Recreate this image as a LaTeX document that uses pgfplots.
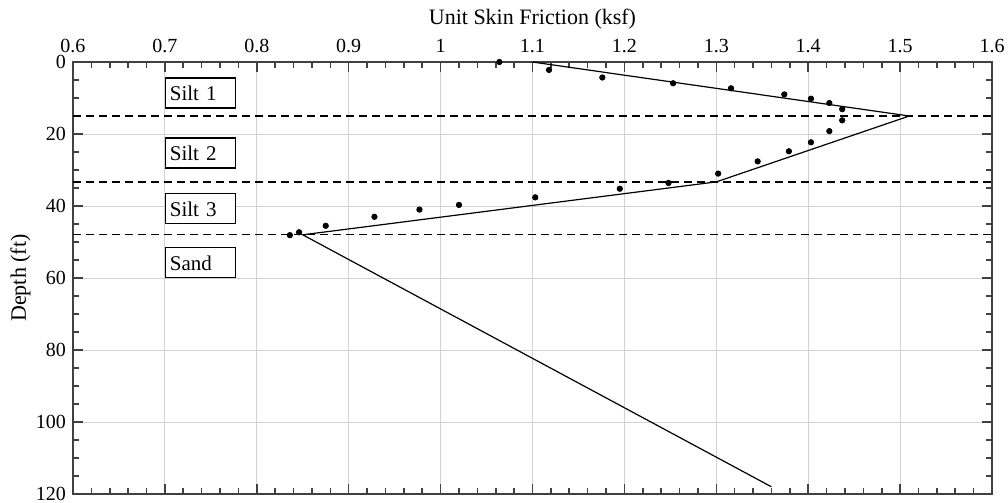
\documentclass[border=0pt]{standalone}
\usepackage{fontspec}
\setmainfont{Liberation Serif}
\usepackage{pgfplots}
\pgfplotsset{compat=1.18}
\begin{document}
\begin{tikzpicture}
\useasboundingbox (-36.5pt,-4.5pt) rectangle (467.5pt,247pt);
\begin{axis}[
  at={(0,0)}, anchor=south west,
  scale only axis, width=459.5pt, height=216pt,
  xmin=0.6, xmax=1.6, ymin=0, ymax=120, y dir=reverse,
  xtick={0.6,0.7,0.8,0.9,1.0,1.1,1.2,1.3,1.4,1.5,1.6},
  xticklabels={0.6,0.7,0.8,0.9,1,1.1,1.2,1.3,1.4,1.5,1.6},
  ytick={0,20,40,60,80,100,120},
  yticklabels={0,20,40,60,80,100,120},
  minor x tick num=4, minor y tick num=3,
  xticklabel pos=upper, yticklabel pos=left,
  tick pos=both, tick align=inside,
  major tick length=5pt, minor tick length=3pt,
  grid=major, major grid style={black!18, line width=0.5pt},
  axis line style={black!75, line width=0.8pt},
  every tick/.style={black!75, line width=0.8pt},
  tick label style={font=\fontsize{10}{12}\selectfont},
  xticklabel style={yshift=1.2pt},
  clip=false,
]
% layer boundaries
\addplot[black, line width=0.65pt, dash pattern=on 4pt off 2.5pt] coordinates {(0.6,15) (1.6,15)};
\addplot[black, line width=0.65pt, dash pattern=on 4pt off 2.5pt] coordinates {(0.6,33.3) (1.6,33.3)};
\addplot[black, line width=0.65pt, dash pattern=on 4pt off 2.5pt] coordinates {(0.6,48) (1.6,48)};
% model
\addplot[black, line width=0.6pt] coordinates {
(1.10,0) (1.51,15) (1.30,33.3) (0.85,48) (1.36,118)};
% measured
\addplot[only marks, mark=*, mark size=1.35pt, black] coordinates {
(1.064,0) (1.118,2.2) (1.176,4.3) (1.253,5.9) (1.316,7.3) (1.374,9.0)
(1.403,10.2) (1.423,11.4) (1.437,13.1) (1.437,16.2) (1.423,19.2)
(1.403,22.3) (1.379,24.8) (1.345,27.6) (1.302,31.0) (1.248,33.6)
(1.195,35.2) (1.103,37.6) (1.020,39.7) (0.977,41.0) (0.928,43.0)
(0.875,45.5) (0.846,47.3) (0.836,48.1)};
\tikzset{lay/.style={draw=black, line width=0.6pt, fill=white, anchor=west,
  text width=30.6pt, align=left, inner xsep=2.2pt, inner ysep=0pt,
  minimum height=15pt, font=\fontsize{10.5}{12}\selectfont}}
\node[lay] at (axis cs:0.7,8.6) {Silt 1};
\node[lay] at (axis cs:0.7,25.3) {Silt 2};
\node[lay] at (axis cs:0.7,40.8) {Silt 3};
\node[lay] at (axis cs:0.7,55.8) {Sand};
\end{axis}
\node[anchor=base, font=\fontsize{11}{13}\selectfont] at (229.75pt,234.5pt) {Unit Skin Friction (ksf)};
\node[rotate=90, font=\fontsize{11}{13}\selectfont] at (-26.25pt,108pt) {Depth (ft)};
\end{tikzpicture}
\end{document}
